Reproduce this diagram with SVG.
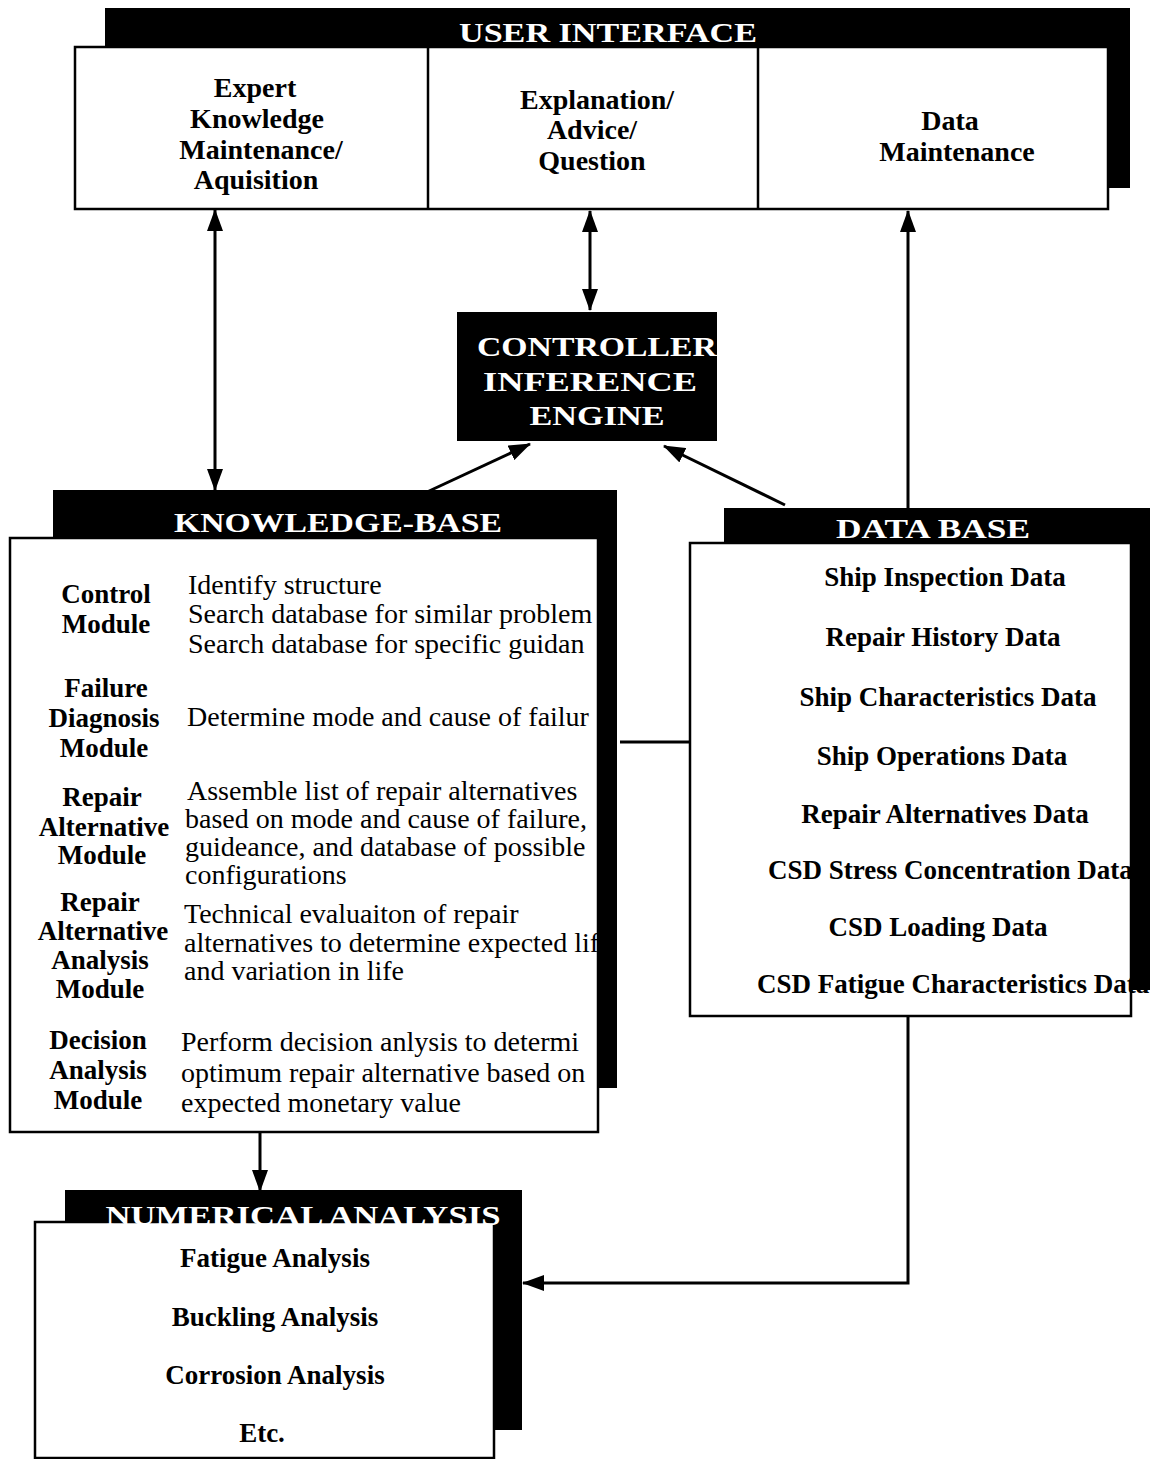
<svg xmlns="http://www.w3.org/2000/svg" width="1150" height="1459" viewBox="0 0 1150 1459">
<style>
text{font-family:"Liberation Serif","Times New Roman",serif;fill:#000}
.b{font-weight:bold;font-size:27px}
.u{font-weight:bold;font-size:28px}
.r{font-size:28px}
.hd{font-weight:bold;font-size:27px;fill:#fff;text-anchor:middle}
.c{text-anchor:middle}
.shadow{fill:#000}
.box{fill:#fff;stroke:#000;stroke-width:2.5}
.ln{fill:none;stroke:#000;stroke-width:3}
</style>
<defs>
<marker id="ah" markerUnits="userSpaceOnUse" markerWidth="22" markerHeight="16" refX="21" refY="8" orient="auto-start-reverse">
<path d="M0,0 L22,8 L0,16 z" fill="#000"/>
</marker>
</defs>
<rect width="1150" height="1459" fill="#fff"/>

<g id="user-interface">
<rect class="shadow" x="105" y="8" width="1025" height="180"/>
<rect class="box" x="75" y="47" width="1033" height="162"/>
<line x1="428" y1="47" x2="428" y2="209" stroke="#000" stroke-width="2.5"/>
<line x1="758" y1="47" x2="758" y2="209" stroke="#000" stroke-width="2.5"/>
<text class="hd" x="608" y="42" textLength="298" lengthAdjust="spacingAndGlyphs">USER INTERFACE</text>
<text class="u c" x="255" y="97">Expert</text>
<text class="u c" x="257" y="128">Knowledge</text>
<text class="u c" x="261" y="159">Maintenance/</text>
<text class="u c" x="256" y="189">Aquisition</text>
<text class="u c" x="597" y="109">Explanation/</text>
<text class="u c" x="592" y="139">Advice/</text>
<text class="u c" x="592" y="170">Question</text>
<text class="u c" x="950" y="130">Data</text>
<text class="u c" x="957" y="161">Maintenance</text>
</g>

<g id="controller">
<rect class="shadow" x="457" y="312" width="260" height="129"/>
<text class="hd" x="597" y="356" textLength="240" lengthAdjust="spacingAndGlyphs">CONTROLLER</text>
<text class="hd" x="590" y="391" textLength="214" lengthAdjust="spacingAndGlyphs">INFERENCE</text>
<text class="hd" x="597" y="425" textLength="135" lengthAdjust="spacingAndGlyphs">ENGINE</text>
</g>

<g id="knowledge-base">
<rect class="shadow" x="53" y="490" width="564" height="598"/>
<rect class="box" x="10" y="538" width="588" height="594"/>
<text class="hd" x="338" y="532" textLength="328" lengthAdjust="spacingAndGlyphs">KNOWLEDGE-BASE</text>
<text class="b c" x="106" y="603">Control</text>
<text class="b c" x="106" y="633">Module</text>
<text class="b c" x="106" y="697">Failure</text>
<text class="b c" x="104" y="727">Diagnosis</text>
<text class="b c" x="104" y="757">Module</text>
<text class="b c" x="102" y="806">Repair</text>
<text class="b c" x="104" y="836">Alternative</text>
<text class="b c" x="102" y="864">Module</text>
<text class="b c" x="100" y="911">Repair</text>
<text class="b c" x="103" y="940">Alternative</text>
<text class="b c" x="100" y="969">Analysis</text>
<text class="b c" x="100" y="998">Module</text>
<text class="b c" x="98" y="1049">Decision</text>
<text class="b c" x="98" y="1079">Analysis</text>
<text class="b c" x="98" y="1109">Module</text>
<text class="r" x="188" y="594">Identify structure</text>
<text class="r" x="188" y="623">Search database for similar problem</text>
<text class="r" x="188" y="653">Search database for specific guidan</text>
<text class="r" x="187" y="726">Determine mode and cause of failur</text>
<text class="r" x="187" y="800">Assemble list of repair alternatives</text>
<text class="r" x="185" y="828">based on mode and cause of failure,</text>
<text class="r" x="185" y="856">guideance, and database of possible</text>
<text class="r" x="185" y="884">configurations</text>
<text class="r" x="184" y="923">Technical evaluaiton of repair</text>
<text class="r" x="184" y="952">alternatives to determine expected life</text>
<text class="r" x="184" y="980">and variation in life</text>
<text class="r" x="181" y="1051">Perform decision anlysis to determi</text>
<text class="r" x="181" y="1082">optimum repair alternative based on</text>
<text class="r" x="181" y="1112">expected monetary value</text>
<rect class="shadow" x="598" y="538" width="19" height="550"/>
</g>

<g id="data-base">
<rect class="shadow" x="724" y="508" width="426" height="482"/>
<rect class="box" x="690" y="543" width="441" height="473"/>
<text class="hd" x="933" y="538" textLength="194" lengthAdjust="spacingAndGlyphs">DATA BASE</text>
<text class="b c" x="945" y="586">Ship Inspection Data</text>
<text class="b c" x="943" y="646">Repair History Data</text>
<text class="b c" x="948" y="706">Ship Characteristics Data</text>
<text class="b c" x="942" y="765">Ship Operations Data</text>
<text class="b c" x="945" y="823">Repair Alternatives Data</text>
<text class="b" x="768" y="879">CSD Stress Concentration Data</text>
<text class="b c" x="938" y="936">CSD Loading Data</text>
<text class="b" x="757" y="993">CSD Fatigue Characteristics Data</text>
</g>

<g id="numerical-analysis">
<rect class="shadow" x="65" y="1190" width="457" height="240"/>
<rect class="box" x="35" y="1222" width="459" height="236"/>
<text class="hd" x="303" y="1225" textLength="395" lengthAdjust="spacingAndGlyphs">NUMERICAL ANALYSIS</text>
<text class="b c" x="275" y="1267">Fatigue Analysis</text>
<text class="b c" x="275" y="1326">Buckling Analysis</text>
<text class="b c" x="275" y="1384">Corrosion Analysis</text>
<text class="b c" x="262" y="1442">Etc.</text>
</g>

<g id="connectors">
<line class="ln" x1="215" y1="210" x2="215" y2="490" marker-start="url(#ah)" marker-end="url(#ah)"/>
<line class="ln" x1="590" y1="211" x2="590" y2="310" marker-start="url(#ah)" marker-end="url(#ah)"/>
<line class="ln" x1="908" y1="510" x2="908" y2="211" marker-end="url(#ah)"/>
<line class="ln" x1="427" y1="492" x2="530" y2="444" marker-end="url(#ah)"/>
<line class="ln" x1="785" y1="505" x2="664" y2="446" marker-end="url(#ah)"/>
<line class="ln" x1="620" y1="742" x2="690" y2="742"/>
<line class="ln" x1="260" y1="1133" x2="260" y2="1191" marker-end="url(#ah)"/>
<path class="ln" d="M908,1016 V1283 H523" marker-end="url(#ah)"/>
</g>
</svg>
